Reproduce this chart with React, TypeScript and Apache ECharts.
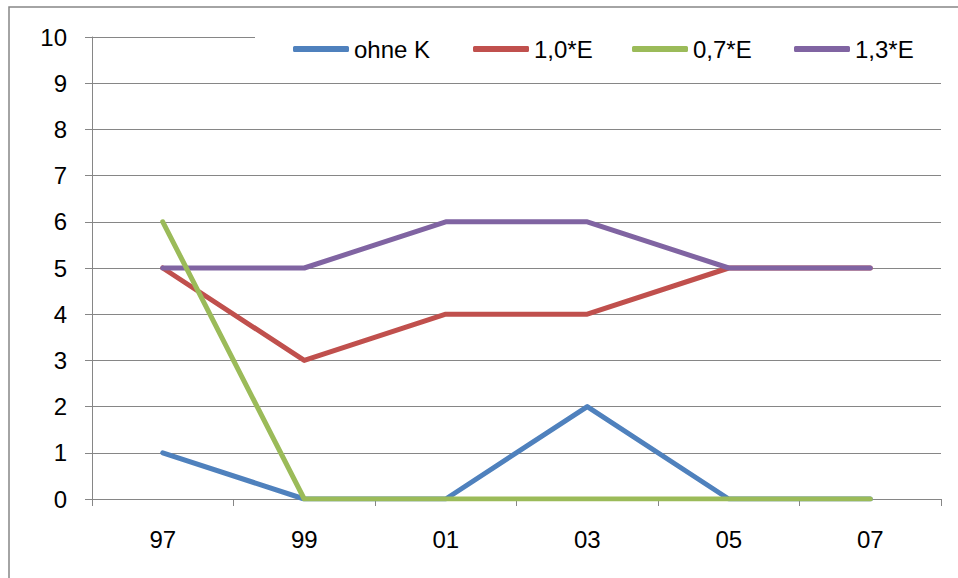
import React, { useEffect, useRef } from "react";
import * as echarts from "echarts";

const categories = ["97", "99", "01", "03", "05", "07"];
const ohneK = [1, 0, 0, 2, 0, 0];
const e10 = [5, 3, 4, 4, 5, 5];
const e07 = [6, 0, 0, 0, 0, 0];
const e13 = [5, 5, 6, 6, 5, 5];
const legendNames = ["ohne K", "1,0*E", "0,7*E", "1,3*E"];
const legendLeft = [293, 473, 632, 794];

const COLORS: Record<string, string> = {
  "ohne K": "#4F81BD",
  "1,0*E": "#C0504D",
  "0,7*E": "#9BBB59",
  "1,3*E": "#8064A2",
};

const FONT = "'Liberation Sans', Arial, sans-serif";
const GRAY = "#868686";

export default function App() {
  const ref = useRef<HTMLDivElement>(null);
  useEffect(() => {
    if (!ref.current) return;
    const chart = echarts.init(ref.current, undefined, { renderer: "svg" });
    const mk = (name: string, data: number[]) => ({
      name,
      type: "line",
      data,
      showSymbol: false,
      symbol: "none",
      color: COLORS[name],
      lineStyle: { width: 5, color: COLORS[name], cap: "round", join: "round" },
    });
    chart.setOption({
      animation: false,
      backgroundColor: "#ffffff",
      textStyle: { fontFamily: FONT },
      grid: { left: 92, right: 17, top: 37, bottom: 79, containLabel: false },
      legend: legendNames.map((n, i) => ({
        data: [n],
        left: legendLeft[i],
        top: 37,
        padding: 0,
        itemWidth: 56,
        itemHeight: 6,
        icon: "roundRect",
        itemStyle: { color: COLORS[n] },
        textStyle: { fontSize: 24, color: "#000", fontFamily: FONT },
        selectedMode: false,
        z: 5,
      })),
      graphic: [
        {
          type: "rect",
          z: 1,
          silent: true,
          shape: { x: 255, y: 22, width: 700, height: 50 },
          style: { fill: "#ffffff" },
        },
        {
          type: "rect",
          z: 1,
          silent: true,
          shape: { x: 9, y: 7, width: 1200, height: 1200 },
          style: { fill: "none", stroke: GRAY, lineWidth: 1.5 },
        },
      ],
      xAxis: {
        type: "category",
        data: categories,
        boundaryGap: true,
        axisLine: { show: true, lineStyle: { color: GRAY, width: 1 } },
        axisTick: { show: true, length: 7, lineStyle: { color: GRAY } },
        axisLabel: { fontSize: 24, color: "#000", margin: 28, fontFamily: FONT },
        splitLine: { show: false },
      },
      yAxis: {
        type: "value",
        min: 0,
        max: 10,
        interval: 1,
        axisLine: { show: true, lineStyle: { color: GRAY, width: 1 } },
        axisTick: { show: true, length: 7, lineStyle: { color: GRAY } },
        axisLabel: { fontSize: 24, color: "#000", margin: 25, fontFamily: FONT },
        splitLine: { show: true, lineStyle: { color: GRAY, width: 1 } },
      },
      series: [
        mk("ohne K", ohneK),
        mk("1,0*E", e10),
        mk("1,3*E", e13),
        mk("0,7*E", e07),
      ],
    });
    return () => chart.dispose();
  }, []);
  return (
    <div
      ref={ref}
      style={{ position: "absolute", left: 0, top: 0, width: 958, height: 578 }}
    />
  );
}
